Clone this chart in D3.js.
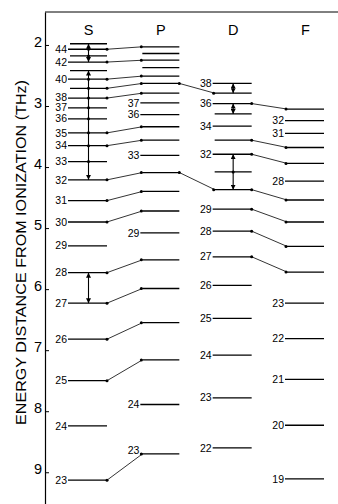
<!DOCTYPE html>
<html>
<head>
<meta charset="utf-8">
<script src="https://cdn.jsdelivr.net/npm/d3@7"></script>
<style>
  html, body { margin: 0; padding: 0; background: #fff; }
  svg { display: block; }
</style>
</head>
<body>
<svg id="chart" width="338" height="504"></svg>
<script>
// Level series (principal quantum number n and distance from ionization in THz)
const columns = ["S", "P", "D", "F"];

const sN = [45, 44, 43, 42, 41, 40, 39, 38, 37, 36, 35, 34, 33, 32, 31, 30, 29, 28, 27, 26, 25, 24, 23];
const sE = [1.98, 2.07, 2.18, 2.28, 2.42, 2.56, 2.71, 2.87, 3.03, 3.21, 3.44, 3.65, 3.91, 4.21, 4.55, 4.90, 5.29, 5.73, 6.23, 6.82, 7.50, 8.24, 9.13];
const sLabeled = [44, 42, 40, 38, 37, 36, 35, 34, 33, 32, 31, 30, 29, 28, 27, 26, 25, 24, 23];

const pN = [44, 43, 42, 41, 40, 39, 38, 37, 36, 35, 34, 33, 32, 31, 30, 29, 28, 27, 26, 25, 24, 23];
const pE = [2.03, 2.14, 2.25, 2.37, 2.51, 2.63, 2.79, 2.95, 3.14, 3.34, 3.56, 3.81, 4.09, 4.40, 4.72, 5.08, 5.52, 5.99, 6.55, 7.16, 7.89, 8.70];
const pLabeled = [37, 36, 33, 29, 24, 23];

const dN = [38, 37, 36, 35, 34, 33, 32, 31, 30, 29, 28, 27, 26, 25, 24, 23, 22];
const dE = [2.63, 2.79, 2.96, 3.13, 3.33, 3.56, 3.79, 4.08, 4.37, 4.69, 5.05, 5.47, 5.94, 6.48, 7.08, 7.78, 8.60];
const dLabeled = [38, 36, 34, 32, 29, 28, 27, 26, 25, 24, 23, 22];

const fN = [33, 32, 31, 30, 29, 28, 27, 26, 25, 24, 23, 22, 21, 20, 19];
const fE = [3.05, 3.24, 3.45, 3.68, 3.94, 4.23, 4.54, 4.90, 5.30, 5.72, 6.23, 6.81, 7.48, 8.23, 9.11];
const fLabeled = [32, 31, 28, 23, 22, 21, 20, 19];

// Transitions between neighbouring series: [from n, to n]
const sToP = [[44, 44], [42, 42], [40, 40], [39, 39], [38, 38], [35, 35], [34, 34], [32, 32], [31, 31], [30, 30], [28, 28], [27, 27], [26, 26], [25, 25], [23, 23]];
const pToD = [[39, 37], [32, 30]];
const dToF = [[36, 33], [33, 30], [32, 29], [30, 27], [29, 26], [28, 25], [27, 24]];

// Vertical double arrows inside a series: [upper n, lower n]
const sArrows = [[45, 42], [41, 32], [28, 27]];
const dArrows = [[38, 37], [36, 35], [32, 30]];

const yTicks = [2, 3, 4, 5, 6, 7, 8, 9];
const yTitle = "ENERGY DISTANCE FROM IONIZATION (THz)";

// ---- layout ----
const svg = d3.select("#chart");
const axisX = 45, topY = 12, bottomY = 504;
const y = d3.scaleLinear().domain([1.46, 9.52]).range([topY, bottomY]);
const x = d3.scalePoint().domain(columns).range([88.5, 305.5]);
const half = 18.5;
const font = "'Liberation Sans', Arial, sans-serif";
const labelSize = 10.5;
const labelGap = 11;   // minimum vertical spacing between level labels

const series = {
  S: { n: sN, e: sE, lab: sLabeled },
  P: { n: pN, e: pE, lab: pLabeled },
  D: { n: dN, e: dE, lab: dLabeled },
  F: { n: fN, e: fE, lab: fLabeled }
};
const energy = (col, n) => series[col].e[series[col].n.indexOf(n)];
const x0 = col => x(col) - half;
const x1 = col => x(col) + half;

// arrowhead marker
const defs = svg.append("defs");
defs.append("marker")
  .attr("id", "head")
  .attr("viewBox", "0 0 8 8")
  .attr("refX", 8).attr("refY", 4)
  .attr("markerWidth", 5).attr("markerHeight", 5)
  .attr("markerUnits", "userSpaceOnUse")
  .attr("orient", "auto-start-reverse")
  .append("path").attr("d", "M0,0L8,4L0,8Z").attr("fill", "#000");

// frame: top rule and energy axis
svg.append("line")
  .attr("x1", axisX).attr("x2", 338).attr("y1", topY).attr("y2", topY)
  .attr("stroke", "#000").attr("stroke-width", 1);

const axis = svg.append("g")
  .attr("transform", `translate(${axisX},0)`)
  .call(d3.axisLeft(y).tickValues(yTicks).tickFormat(d3.format("d"))
    .tickSizeInner(-4).tickSizeOuter(0).tickPadding(3));
axis.select(".domain").attr("stroke", "#000").attr("stroke-width", 1.2);
axis.selectAll(".tick line").attr("stroke", "#000");
axis.selectAll(".tick text")
  .attr("font-family", font).attr("font-size", 14.5).attr("fill", "#000")
  .attr("dy", "0.1em");

svg.append("text")
  .attr("transform", `translate(26,${(80 + 425) / 2}) rotate(-90)`)
  .attr("text-anchor", "middle")
  .attr("font-family", font).attr("font-size", 15.5)
  .attr("textLength", 345).attr("lengthAdjust", "spacingAndGlyphs")
  .attr("fill", "#000")
  .text(yTitle);

// column headers
svg.selectAll("text.hdr").data(columns).join("text")
  .attr("class", "hdr")
  .attr("x", d => x(d)).attr("y", 35)
  .attr("text-anchor", "middle")
  .attr("font-family", font).attr("font-size", 14.5).attr("fill", "#000")
  .text(d => d);

// transition lines (drawn first so levels sit on top)
const trans = [];
sToP.forEach(([a, b]) => trans.push({ ca: "S", na: a, cb: "P", nb: b }));
pToD.forEach(([a, b]) => trans.push({ ca: "P", na: a, cb: "D", nb: b }));
dToF.forEach(([a, b]) => trans.push({ ca: "D", na: a, cb: "F", nb: b }));

const incoming = new Set(trans.map(t => t.cb + t.nb));

svg.append("g").selectAll("line").data(trans).join("line")
  .attr("x1", d => x1(d.ca)).attr("y1", d => y(energy(d.ca, d.na)))
  .attr("x2", d => x0(d.cb)).attr("y2", d => y(energy(d.cb, d.nb)))
  .attr("stroke", "#000").attr("stroke-width", 0.8);

const dots = [];
trans.forEach(t => {
  dots.push([x1(t.ca), y(energy(t.ca, t.na))]);
  dots.push([x0(t.cb) - 1, y(energy(t.cb, t.nb))]);
});

// energy levels
columns.forEach(col => {
  const s = series[col];
  const g = svg.append("g");
  const rows = s.n.map((n, i) => ({ n, e: s.e[i], labeled: s.lab.includes(n) }));
  g.selectAll("line").data(rows).join("line")
    .attr("x1", d => x0(col) - (d.labeled ? 2 : 0)).attr("x2", x1(col))
    .attr("y1", d => y(d.e)).attr("y2", d => y(d.e))
    .attr("stroke", "#000").attr("stroke-width", 1.3);

  // label positions: raise a label when a level feeds in from the left,
  // and lift the upper label of a crowded pair so the two stay apart
  const labels = rows.filter(d => d.labeled)
    .map(d => ({ n: d.n, ly: y(d.e) - (incoming.has(col + d.n) ? 4 : 0) }))
    .sort((a, b) => a.ly - b.ly);
  for (let i = 1; i < labels.length; i++) {
    const gap = labels[i].ly - labels[i - 1].ly;
    if (gap < labelGap) labels[i - 1].ly -= (labelGap - gap);
  }
  g.selectAll("text").data(labels).join("text")
    .attr("x", x0(col) - 3)
    .attr("y", d => d.ly)
    .attr("dy", "0.35em")
    .attr("text-anchor", "end")
    .attr("font-family", font).attr("font-size", labelSize).attr("fill", "#000")
    .text(d => d.n);
});

// vertical arrows within a series
function drawArrows(col, list) {
  list.forEach(([a, b]) => {
    const ya = y(energy(col, a)), yb = y(energy(col, b));
    svg.append("line")
      .attr("x1", x(col)).attr("x2", x(col))
      .attr("y1", ya).attr("y2", yb)
      .attr("stroke", "#000").attr("stroke-width", 1.1)
      .attr("marker-start", "url(#head)").attr("marker-end", "url(#head)");
    series[col].n.forEach((n, i) => {
      if (n < a && n > b) dots.push([x(col), y(series[col].e[i])]);
    });
  });
}
drawArrows("S", sArrows);
drawArrows("D", dArrows);

svg.append("g").selectAll("circle").data(dots).join("circle")
  .attr("cx", d => d[0]).attr("cy", d => d[1]).attr("r", 1.5)
  .attr("fill", "#000");
</script>
</body>
</html>
